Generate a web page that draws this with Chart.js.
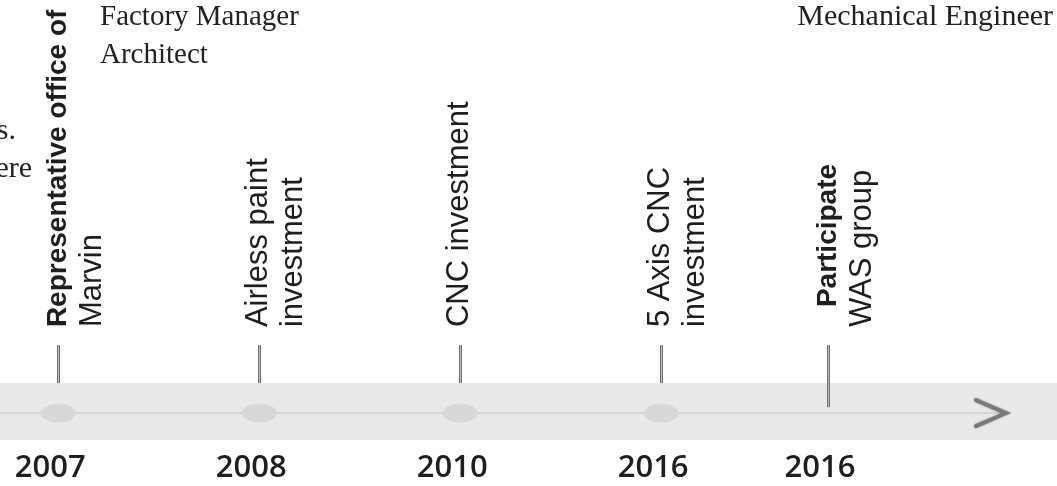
<!DOCTYPE html>
<html>
<head>
<meta charset="utf-8">
<script src="https://cdn.jsdelivr.net/npm/chart.js@4/dist/chart.umd.min.js"></script>
<style>
    html, body { margin: 0; padding: 0; background: #fff; }
    #wrap { width: 1057px; height: 486px; position: relative; }
</style>
</head>
<body>
<div id="wrap"><canvas id="timeline"></canvas></div>
<script>
// timeline data
const years = ['2007', '2008', '2010', '2016', '2016'];
const eventPos = [0, 1, 2, 3, 3.83];
const hasDot = [true, true, true, true, false];
const labelLines = [
    ['Representative office of', 'Marvin'],
    ['Airless paint', 'investment'],
    ['CNC investment'],
    ['5 Axis CNC', 'investment'],
    ['Participate', 'WAS group'],
];
const boldFirst = [true, false, false, false, true];
const topLeftRoles = ['Factory Manager', 'Architect'];
const topRightRoles = ['Mechanical Engineer'];
const leftFragments = ['s.', 'ere'];

// layout / styles
const BAND_TOP = 30, BAND_BOTTOM = 27;   // px above/below the timeline
const STEM_TOP = 68;                     // px above the timeline
const SANS = "'Liberation Sans', Arial, sans-serif";
const SERIF = "'Liberation Serif', 'Times New Roman', serif";
const labelShift = [0, 0, 0, 0, 20];

// ellipse marker used as point style
function ellipseMarker() {
    const c = document.createElement('canvas');
    c.width = 36; c.height = 20;
    const g = c.getContext('2d');
    g.fillStyle = '#d8d8d8';
    g.beginPath();
    g.ellipse(18, 10, 17.5, 9.5, 0, 0, Math.PI * 2);
    g.fill();
    return c;
}

const timelinePlugin = {
    id: 'timeline',
    beforeDatasetsDraw(chart) {
        const { ctx, scales, width } = chart;
        const y0 = scales.y.getPixelForValue(0);
        ctx.save();
        // band
        ctx.fillStyle = '#e9e9e9';
        ctx.fillRect(0, y0 - BAND_TOP, width, BAND_TOP + BAND_BOTTOM);
        // thin axis line
        ctx.strokeStyle = '#d6d6d6';
        ctx.lineWidth = 2;
        ctx.beginPath();
        ctx.moveTo(0, y0);
        ctx.lineTo(1000, y0);
        ctx.stroke();
        // arrow head
        ctx.strokeStyle = '#7a7a7a';
        ctx.lineWidth = 4;
        ctx.lineCap = 'round';
        ctx.shadowColor = 'rgba(0,0,0,0.35)';
        ctx.shadowBlur = 2;
        ctx.beginPath();
        ctx.moveTo(976, y0 - 13);
        ctx.lineTo(1006, y0);
        ctx.lineTo(976, y0 + 13);
        ctx.stroke();
        ctx.shadowBlur = 0;
        ctx.lineCap = 'butt';
        // stems
        eventPos.forEach((p, i) => {
            const x = Math.round(scales.x.getPixelForValue(p)) + 0.5;
            const yEnd = hasDot[i] ? y0 - BAND_TOP : y0 - 6;
            ctx.strokeStyle = '#6e6e6e';
            ctx.lineWidth = 3;
            ctx.beginPath();
            ctx.moveTo(x, y0 - STEM_TOP);
            ctx.lineTo(x, yEnd);
            ctx.stroke();
            ctx.strokeStyle = '#bdbdbd';
            ctx.lineWidth = 1;
            ctx.beginPath();
            ctx.moveTo(x, y0 - STEM_TOP);
            ctx.lineTo(x, yEnd);
            ctx.stroke();
        });
        ctx.restore();
    },
    afterDraw(chart) {
        const { ctx, scales } = chart;
        const y0 = scales.y.getPixelForValue(0);
        ctx.save();
        ctx.fillStyle = '#1e1e1e';

        // years
        ctx.font = "600 31px 'Open Sans', sans-serif";
        ctx.textAlign = 'center';
        ctx.textBaseline = 'alphabetic';
        eventPos.forEach((p, i) => {
            ctx.fillText(years[i], scales.x.getPixelForValue(p) - 8, y0 + 64);
        });

        // rotated event labels
        ctx.textAlign = 'left';
        eventPos.forEach((p, i) => {
            const x = scales.x.getPixelForValue(p) + 8;
            labelLines[i].forEach((line, j) => {
                const bold = j === 0 && boldFirst[i];
                ctx.font = (bold ? 'bold 28px ' : '31px ') + SANS;
                const start = y0 - 86 - (bold ? labelShift[i] : 0);
                ctx.save();
                ctx.translate(x + j * 35, start);
                ctx.rotate(-Math.PI / 2);
                ctx.fillText(line, 0, 0);
                ctx.restore();
            });
        });

        // serif role texts
        ctx.font = '29px ' + SERIF;
        ctx.fillStyle = '#222';
        ctx.textAlign = 'left';
        topLeftRoles.forEach((t, i) => ctx.fillText(t, 100, 25 + i * 38));
        ctx.textAlign = 'right';
        ctx.font = '30px ' + SERIF;
        topRightRoles.forEach((t, i) => ctx.fillText(t, 1053, 25 + i * 38));
        ctx.fillText(leftFragments[0], 16, 139);
        ctx.fillText(leftFragments[1], 32, 177);
        ctx.restore();
    },
};

const marker = ellipseMarker();
const dots = eventPos.map((p, i) => ({ x: p, y: 0 })).filter((_, i) => hasDot[i]);

new Chart(document.getElementById('timeline'), {
    type: 'scatter',
    data: {
        datasets: [{
            data: dots,
            pointStyle: marker,
            pointRadius: 10,
            pointHoverRadius: 10,
        }],
    },
    options: {
        responsive: true,
        maintainAspectRatio: false,
        animation: false,
        events: [],
        layout: { padding: 0, autoPadding: false },
        plugins: { legend: { display: false }, tooltip: { enabled: false } },
        scales: {
            x: { type: 'linear', min: -0.29, max: 4.97, display: false },
            y: { type: 'linear', min: -0.15, max: 0.85, display: false },
        },
    },
    plugins: [timelinePlugin],
});
</script>
</body>
</html>
